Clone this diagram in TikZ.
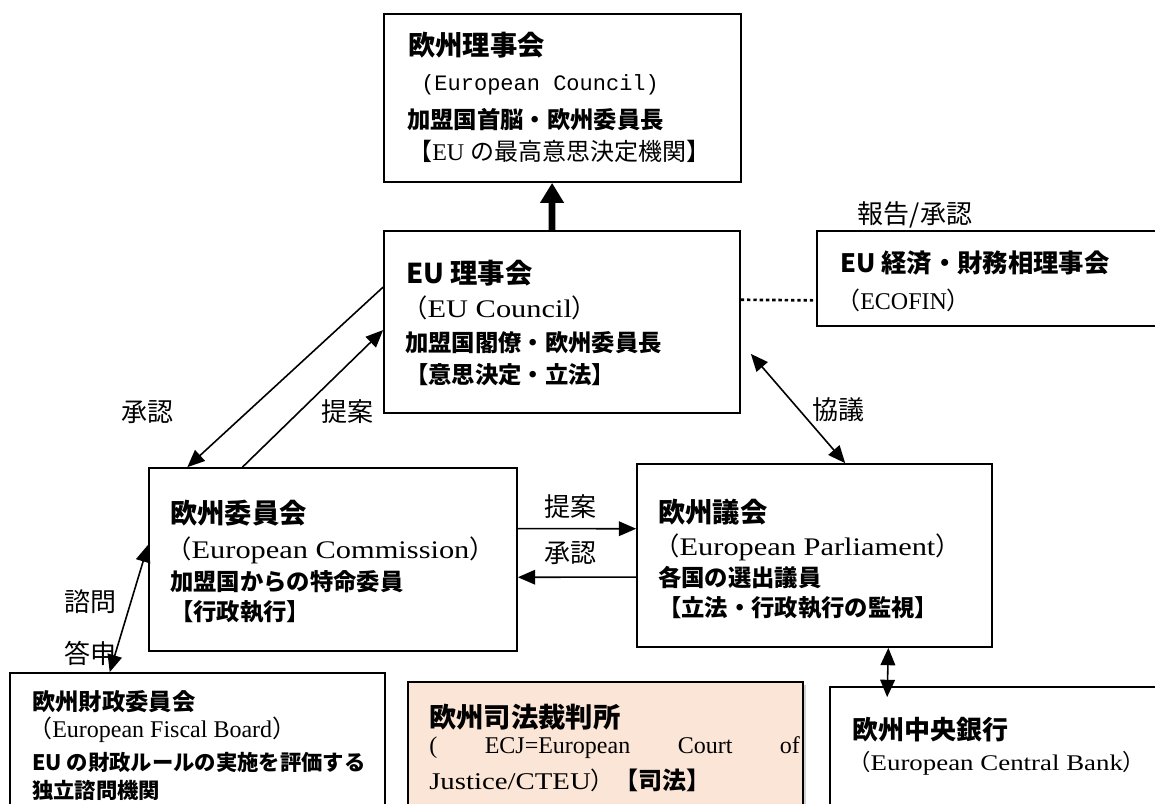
\documentclass[tikz,border=0pt]{standalone}
\usepackage{fontspec}
\setmainfont{Liberation Serif}
\setmonofont{Liberation Mono}
\newfontfamily\jp{Noto Sans CJK JP}
\newfontfamily\wide{Liberation Serif}[FakeStretch=1.2]
\usetikzlibrary{arrows.meta,fit,shadows,calc}
\definecolor{peach}{RGB}{251,229,214}
\newcommand\jlp{{\jp （}}
\newcommand\jrp{{\jp ）}}
\tikzset{arrtip/.tip={Triangle[length=13pt,width=11pt]}}
\begin{document}
\begin{tikzpicture}[x=0.75pt,y=-0.75pt,
 box/.style={draw, line width=1.3pt, inner sep=0pt, rectangle},
 ttl/.style={anchor=west, inner sep=0pt, font=\jp\bfseries\fontsize{20.5}{22}\selectfont},
 bd/.style={anchor=west, inner sep=0pt, font=\jp\bfseries\fontsize{17.5}{20}\selectfont},
 rg/.style={anchor=west, inner sep=0pt, font=\fontsize{18}{20}\selectfont},
 wd/.style={anchor=west, inner sep=0pt, font=\wide\fontsize{19}{21}\selectfont},
 word/.style={inner sep=0pt, font=\jp\fontsize{19.5}{21}\selectfont},
 arr/.style={line width=1.2pt, -{arrtip}},
 darr/.style={line width=1.2pt, {arrtip}-{arrtip}},
]
\useasboundingbox (0,0) rectangle (1155,803);
\clip (0,0) rectangle (1155,803);

% boxes
\node[box, fit={(384,14) (741,182)}] (ec) {};
\node[box, fit={(384,231) (740,413)}] (ecu) {};
\node[box, fit={(817,231) (1175,326)}] (eco) {};
\node[box, fit={(149,468) (517,651)}] (comm) {};
\node[box, fit={(637,464) (992,647)}] (parl) {};
\node[box, fit={(10,673) (385,840)}] (fis) {};
\node[box, fill=peach, drop shadow={opacity=0.35, shadow xshift=2.5pt, shadow yshift=-2pt}, fit={(408,682) (803,840)}] (ecj) {};
\node[box, fit={(830,687) (1175,840)}] (ecb) {};

% European Council
\node[ttl] (t1a) at (408,45) {欧州理事会};
\node[anchor=west, inner sep=0pt, font=\ttfamily\fontsize{16.5}{18}\selectfont] (t1b) at (421,85) {(European Council)};
\node[bd] (t1c) at (407,120) {加盟国首脳・欧州委員長};
\node[rg] (t1d) at (408,151) {{\jp 【}EU {\jp の最高意思決定機関】}};

% EU Council
\node[ttl] (t2a) at (406,273) {EU 理事会};
\node[wd] (t2b) at (402,308) {\jlp EU Council\jrp};
\node[bd] (t2c) at (405,343) {加盟国閣僚・欧州委員長};
\node[bd] (t2d) at (405,375) {【意思決定・立法】};

% ECOFIN
\node[ttl, font=\jp\bfseries\fontsize{19}{22}\selectfont] (t3a) at (840,263) {EU 経済・財務相理事会};
\node[rg] (t3b) at (836,300) {\jlp ECOFIN\jrp};

% Commission
\node[ttl] (t4a) at (170,513) {欧州委員会};
\node[wd] (t4b) at (166,550) {\jlp European Commission\jrp};
\node[bd] (t4c) at (170,582) {加盟国からの特命委員};
\node[bd] (t4d) at (170,612) {【行政執行】};

% Parliament
\node[ttl] (t5a) at (658,512) {欧州議会};
\node[wd] (t5b) at (654,547) {\jlp European Parliament\jrp};
\node[bd] (t5c) at (658,578) {各国の選出議員};
\node[bd] (t5d) at (658,608) {【立法・行政執行の監視】};

% Fiscal board
\node[bd] (t6a) at (32,702) {欧州財政委員会};
\node[rg] (t6b) at (28,730) {\jlp European Fiscal Board\jrp};
\node[bd, font=\jp\bfseries\fontsize{16}{20}\selectfont] (t6c) at (32,762) {EU の財政ルールの実施を評価する};
\node[bd, font=\jp\bfseries\fontsize{16}{20}\selectfont] (t6d) at (32,790) {独立諮問機関};

% Court
\node[ttl] (t7a) at (429,717) {欧州司法裁判所};
\node[rg] (t7b) at (429,748) {\makebox[278pt][s]{( ECJ=European Court of}};
\node[wd, font=\wide\fontsize{18}{20}\selectfont] (t7c) at (429,780) {Justice/CTEU\jrp{\jp\bfseries 【司法】}};

% ECB
\node[ttl, font=\jp\bfseries\fontsize{19.5}{22}\selectfont] (t8a) at (852,730) {欧州中央銀行};
\node[wd, font=\wide\fontsize{16.8}{20}\selectfont] (t8b) at (848,763) {\jlp European Central Bank\jrp};

% labels
\node[word] (l1) at (915,215) {報告/承認};
\node[word] (l2) at (147,412) {承認};
\node[word] (l3) at (347,412) {提案};
\node[word] (l4) at (838,410) {協議};
\node[word] (l5) at (570,507) {提案};
\node[word] (l6) at (570,553) {承認};
\node[word] (l7) at (90,602) {諮問};
\node[word] (l8) at (90,653) {答申};

% connectors
\draw[line width=5pt, -{Triangle[length=15pt,width=17pt]}]
  ($(ecu.north west)!0.472!(ecu.north east)$) -- ($(ec.south west)!0.471!(ec.south east)$);
\draw[arr] ($(ecu.north west)!0.31!(ecu.south west)$) -- ($(comm.north west)!0.106!(comm.north east)$);
\draw[arr] ($(comm.north west)!0.255!(comm.north east)$) -- ($(ecu.north west)!0.544!(ecu.south west)$);
\draw[darr] ($(ecu.south east)+(10,-60)$) -- ($(parl.north west)!0.586!(parl.north east)$);
\draw[arr] ($(comm.north east)!0.333!(comm.south east)$) -- ($(parl.north west)!0.355!(parl.south west)$);
\draw[arr] ($(parl.north west)!0.617!(parl.south west)$) -- ($(comm.north east)!0.596!(comm.south east)$);
\draw[darr] ($(comm.north west)!0.42!(comm.south west)$) -- ($(fis.north west)!0.267!(fis.north east)$);
\draw[darr] ($(parl.south west)!0.707!(parl.south east)$) -- ($(ecb.north west)+(58,11)$);
\draw[line width=2pt, dash pattern=on 2.5pt off 2.2pt]
  ($(ecu.north east)!0.379!(ecu.south east)$) -- ($(eco.north west)!0.726!(eco.south west)$);
\end{tikzpicture}
\end{document}
